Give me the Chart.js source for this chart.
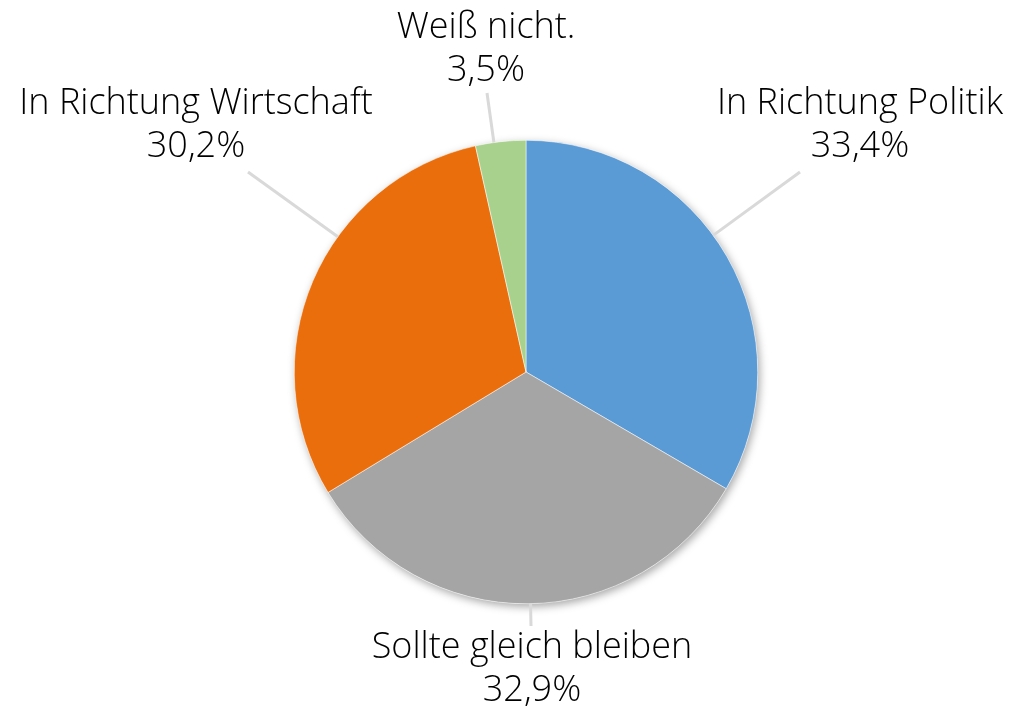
<!DOCTYPE html>
<html>
<head>
<meta charset="utf-8">
<script src="https://cdn.jsdelivr.net/npm/chart.js@4/dist/chart.umd.min.js"></script>
<style>
    html, body { margin: 0; padding: 0; background: #fff; }
    #wrap { width: 1010px; height: 709px; }
</style>
</head>
<body>
<div id="wrap"><canvas id="pieChart" width="1010" height="709"></canvas></div>
<script>
// Chart data
const categories = ['In Richtung Politik', 'Sollte gleich bleiben', 'In Richtung Wirtschaft', 'Weiß nicht.'];
const shares = [33.4, 32.9, 30.2, 3.5];
const sliceColors = ['#5B9BD5', '#A5A5A5', '#EB6E0C', '#A9D18E'];

const labelFont = '300 36px "Open Sans", "Noto Sans", sans-serif';

// Label placement: text centre and where the leader line ends
const labelLayout = [
    { x: 860, y: 104, lx: 800, ly: 172 },
    { x: 532, y: 648, lx: 531, ly: 626 },
    { x: 196, y: 104, lx: 248, ly: 172 },
    { x: 486, y: 28,  lx: 487, ly: 93 }
];

function formatShare(v) {
    return v.toFixed(1).replace('.', ',') + '%';
}

// soft shadow behind the whole pie
const pieShadow = {
    id: 'pieShadow',
    beforeDatasetsDraw(chart) {
        const arc = chart.getDatasetMeta(0).data[0];
        if (!arc) return;
        const ctx = chart.ctx;
        ctx.save();
        ctx.shadowColor = 'rgba(0,0,0,0.35)';
        ctx.shadowBlur = 9;
        ctx.shadowOffsetX = 2;
        ctx.shadowOffsetY = 3;
        ctx.fillStyle = '#ffffff';
        ctx.beginPath();
        ctx.arc(arc.x, arc.y, arc.outerRadius, 0, Math.PI * 2);
        ctx.fill();
        ctx.restore();
    }
};

// outside labels with leader lines
const outsideLabels = {
    id: 'outsideLabels',
    afterDatasetsDraw(chart) {
        const ctx = chart.ctx;
        const meta = chart.getDatasetMeta(0);
        ctx.save();
        meta.data.forEach((arc, i) => {
            const pos = labelLayout[i];
            const dx = pos.lx - arc.x;
            const dy = pos.ly - arc.y;
            const len = Math.sqrt(dx * dx + dy * dy);
            const sx = arc.x + dx / len * arc.outerRadius;
            const sy = arc.y + dy / len * arc.outerRadius;

            ctx.strokeStyle = '#D9D9D9';
            ctx.lineWidth = 3;
            ctx.beginPath();
            ctx.moveTo(sx, sy);
            ctx.lineTo(pos.lx, pos.ly);
            ctx.stroke();

            ctx.fillStyle = '#000000';
            ctx.font = labelFont;
            ctx.textAlign = 'center';
            ctx.textBaseline = 'middle';
            ctx.fillText(categories[i], pos.x, pos.y);
            ctx.fillText(formatShare(shares[i]), pos.x, pos.y + 43);
        });
        ctx.restore();
    }
};

new Chart(document.getElementById('pieChart').getContext('2d'), {
    type: 'pie',
    data: {
        labels: categories,
        datasets: [{
            data: shares,
            backgroundColor: sliceColors,
            borderColor: '#ffffff',
            borderWidth: 0.5
        }]
    },
    options: {
        responsive: false,
        animation: false,
        layout: {
            padding: { top: 140, bottom: 105, left: 294, right: 252 }
        },
        plugins: {
            legend: { display: false },
            tooltip: { enabled: false }
        }
    },
    plugins: [pieShadow, outsideLabels]
});
</script>
</body>
</html>
